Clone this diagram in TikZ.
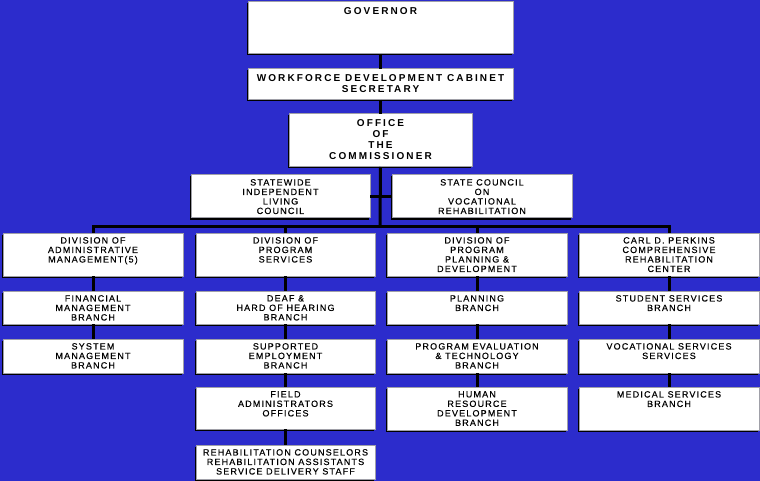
\documentclass[tikz,border=0pt]{standalone}
\usepackage{fontspec}
\newfontfamily\topf{Liberation Sans}[LetterSpace=21]
\newfontfamily\lowf{Liberation Sans}[LetterSpace=13,FakeBold=0.4]
\usetikzlibrary{shadows}
\definecolor{bg}{RGB}{44,44,204}
\definecolor{bord}{RGB}{160,160,168}
\tikzset{
  box/.style={draw=bord, line width=1pt, fill=white, inner sep=0pt, outer sep=0pt, anchor=north west,
    drop shadow={shadow xshift=-1.5pt, shadow yshift=-1.5pt, fill=black, opacity=1}},
  toptxt/.style={anchor=north, align=center, inner sep=0pt, yshift=-5pt, font=\topf\bfseries\fontsize{10}{11}\selectfont},
  lowtxt/.style={anchor=north, align=center, inner sep=0pt, yshift=-4pt, font=\lowf\fontsize{9}{9.5}\selectfont},
  conn/.style={line width=3pt, draw=black},
}
\newcommand\bx[7]{%
  \node[box, minimum width={(#4-#2)*1pt}, minimum height={(#5-#3)*1pt}] (#1) at (#2,#3) {};
  \node[#6] (#1t) at (#1.north) {#7};}
\begin{document}
\begin{tikzpicture}[x=1pt,y=-1pt]
\fill[bg] (0,0) rectangle (760,481);
\useasboundingbox (0,0) rectangle (760,481);
% top
\bx{gov}{248}{2}{513}{54}{toptxt}{GOVERNOR}
\bx{wf}{248}{69}{513}{100}{toptxt}{WORKFORCE DEVELOPMENT CABINET\\SECRETARY}
\bx{oc}{289}{114}{472}{167}{toptxt}{OFFICE\\OF\\THE\\COMMISSIONER}
\bx{sil}{191}{175}{370}{218}{lowtxt}{STATEWIDE\\INDEPENDENT\\LIVING\\COUNCIL}
\bx{scv}{392}{175}{572}{218}{lowtxt}{STATE COUNCIL\\ON\\VOCATIONAL\\REHABILITATION}
% column 1
\bx{d1}{3}{233}{183}{276}{lowtxt}{DIVISION OF\\ADMINISTRATIVE\\MANAGEMENT(5)}
\bx{fm}{3}{291}{183}{324}{lowtxt}{FINANCIAL\\MANAGEMENT\\BRANCH}
\bx{sm}{3}{339}{183}{373}{lowtxt}{SYSTEM\\MANAGEMENT\\BRANCH}
% column 2
\bx{d2}{196}{233}{375}{276}{lowtxt}{DIVISION OF\\PROGRAM\\SERVICES}
\bx{dh}{196}{291}{375}{324}{lowtxt}{DEAF \&\\HARD OF HEARING\\BRANCH}
\bx{se}{196}{339}{375}{373}{lowtxt}{SUPPORTED\\EMPLOYMENT\\BRANCH}
\bx{fa}{196}{387}{375}{429}{lowtxt}{FIELD\\ADMINISTRATORS\\OFFICES}
\bx{rc}{196}{445}{375}{479}{lowtxt}{REHABILITATION COUNSELORS\\REHABILITATION ASSISTANTS\\SERVICE DELIVERY STAFF}
% column 3
\bx{d3}{387}{233}{567}{276}{lowtxt}{DIVISION OF\\PROGRAM\\PLANNING \&\\DEVELOPMENT}
\bx{pb}{387}{291}{567}{324}{lowtxt}{PLANNING\\BRANCH}
\bx{pe}{387}{339}{567}{373}{lowtxt}{PROGRAM EVALUATION\\\& TECHNOLOGY\\BRANCH}
\bx{hr}{387}{387}{567}{430}{lowtxt}{HUMAN\\RESOURCE\\DEVELOPMENT\\BRANCH}
% column 4
\bx{cp}{579}{233}{759}{276}{lowtxt}{CARL D. PERKINS\\COMPREHENSIVE\\REHABILITATION\\CENTER}
\bx{ss}{579}{291}{759}{324}{lowtxt}{STUDENT SERVICES\\BRANCH}
\bx{vs}{579}{339}{759}{373}{lowtxt}{VOCATIONAL SERVICES\\SERVICES}
\bx{ms}{579}{387}{759}{430}{lowtxt}{MEDICAL SERVICES\\BRANCH}
% connectors
\coordinate (bus) at (380,226);
\draw[conn] (gov.south) -- (wf.north);
\draw[conn] (wf.south) -- (oc.north);
\draw[conn] (oc.south) -- (bus);
\draw[conn] (sil.east) -- (scv.west);
\draw[conn] (d1.north) |- (bus) -| (cp.north);
\draw[conn] (d2.north) -- (d2.north |- bus);
\draw[conn] (d3.north) -- (d3.north |- bus);
\draw[conn] (d1.south) -- (fm.north);
\draw[conn] (fm.south) -- (sm.north);
\draw[conn] (d2.south) -- (dh.north);
\draw[conn] (dh.south) -- (se.north);
\draw[conn] (se.south) -- (fa.north);
\draw[conn] (fa.south) -- (rc.north);
\draw[conn] (d3.south) -- (pb.north);
\draw[conn] (pb.south) -- (pe.north);
\draw[conn] (pe.south) -- (hr.north);
\draw[conn] (cp.south) -- (ss.north);
\draw[conn] (ss.south) -- (vs.north);
\draw[conn] (vs.south) -- (ms.north);
\end{tikzpicture}
\end{document}
